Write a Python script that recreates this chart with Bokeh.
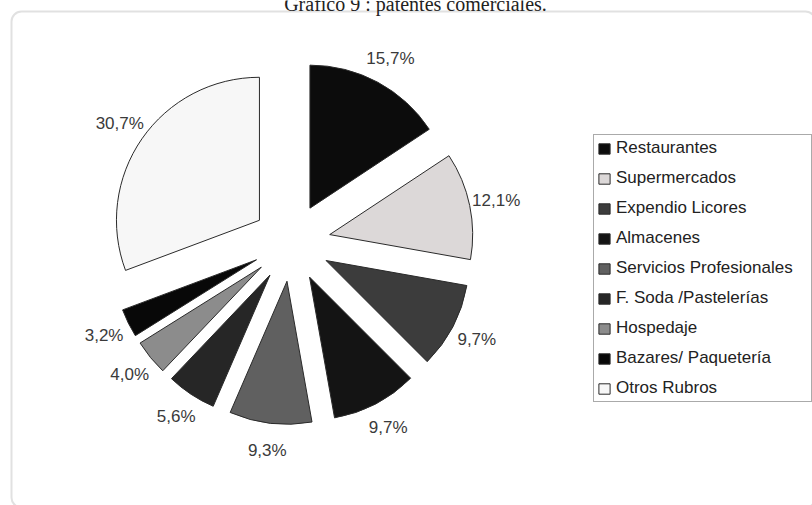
import math
from bokeh.plotting import figure
from bokeh.models import Range1d, Legend, LegendItem, ColumnDataSource, BoxAnnotation, Label
from bokeh.core.properties import value
from bokeh.embed import file_html
from bokeh.resources import INLINE

# ---- data ----
categories = ["Restaurantes", "Supermercados", "Expendio Licores", "Almacenes",
              "Servicios Profesionales", "F. Soda /Pastelerías", "Hospedaje",
              "Bazares/ Paquetería", "Otros Rubros"]
values = [15.7, 12.1, 9.7, 9.7, 9.3, 5.6, 4.0, 3.2, 30.7]
colors = ["#0c0c0c", "#dcd8d8", "#3c3c3c", "#141414", "#606060",
          "#262626", "#8c8c8c", "#080808", "#f7f7f7"]
title_text = "Gráfico 9 : patentes comerciales."

# ---- geometry (pixels) ----
W, H = 812, 505
cx, cy = 291, H - 242
R = 143
explode = 39
label_r = 209

total = sum(values)
xs, ys, starts, ends, lx, ly, labs = [], [], [], [], [], [], []
cum = 0.0
for v in values:
    t1 = cum / total * 2 * math.pi
    t2 = (cum + v) / total * 2 * math.pi
    mid = (t1 + t2) / 2
    xs.append(cx + explode * math.sin(mid))
    ys.append(cy + explode * math.cos(mid))
    starts.append(math.pi / 2 - t2)
    ends.append(math.pi / 2 - t1)
    lx.append(cx + label_r * math.sin(mid))
    ly.append(cy + label_r * math.cos(mid))
    labs.append(f"{v:.1f}".replace(".", ",") + "%")
    cum += v

src = ColumnDataSource(dict(x=xs, y=ys, start=starts, end=ends, color=colors,
                            cat=categories, lx=lx, ly=ly, lab=labs))

p = figure(width=W, height=H, x_range=Range1d(0, W), y_range=Range1d(0, H),
           output_backend="svg", toolbar_location=None, min_border=0,
           x_axis_type=None, y_axis_type=None)
p.grid.visible = False
p.outline_line_color = None
p.background_fill_color = "white"

# rounded frame (partly beyond the right and bottom edges, as in the scan)
p.add_layout(BoxAnnotation(left=11, right=815, top=H - 11, bottom=-2,
                           fill_alpha=0, line_color="#9c9c9c", line_width=2,
                           border_radius=10))

r = p.wedge(x="x", y="y", radius=R, start_angle="start", end_angle="end",
            direction="anticlock", fill_color="color", line_color="#2a2a2a",
            line_width=1, source=src)

p.text(x="lx", y="ly", text="lab", source=src, text_align="center",
       text_baseline="middle", text_font=value("Liberation Sans"),
       text_font_size="17px", text_color="#3a3a3a")

p.add_layout(Label(x=415, y=H - 3, text=title_text, text_align="center",
                   text_baseline="alphabetic", text_font="Liberation Serif",
                   text_font_size="20px", text_color="#222222"))

items = [LegendItem(label=c, renderers=[r], index=i) for i, c in enumerate(categories)]
legend = Legend(items=items, location=(593, H - 402), glyph_width=14, glyph_height=13,
                label_standoff=5, label_text_font="Liberation Sans",
                label_text_font_size="17px", label_text_color="#222222",
                label_height=20, label_width=192, spacing=10, padding=3, margin=0,
                border_line_color="#555555", border_line_width=1,
                background_fill_color="white", background_fill_alpha=1)
p.add_layout(legend)

open("out.html", "w").write(file_html(p, INLINE))
